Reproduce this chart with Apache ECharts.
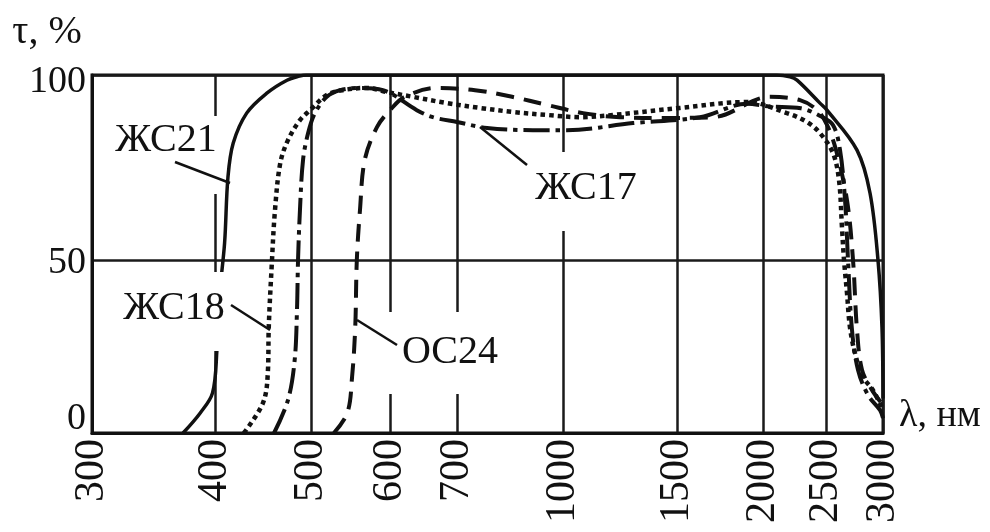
<!DOCTYPE html>
<html>
<head>
<meta charset="utf-8">
<script src="https://cdn.jsdelivr.net/npm/echarts@6/dist/echarts.min.js"></script>
<style>
html, body { margin: 0; padding: 0; background: #fff; }
#chart { width: 990px; height: 532px; }
</style>
</head>
<body>
<div id="chart"></div>
<script>
// Tick labels of both axes
const xTickLabels = [300, 400, 500, 600, 700, 1000, 1500, 2000, 2500, 3000];
const yTickLabels = [0, 50, 100];

// Transmission spectra: wavelength (nm) and transmittance (%)
const wlZS21 = [374, 388, 398, 402, 405, 410, 413.5, 419, 433, 454, 475, 488, 495, 2111, 2214, 2270, 2452, 2509, 2772, 2886, 2956, 2991, 3000];
const tZS21  = [0, 5.8, 11.6, 24, 40.5, 54.6, 72.4, 81.6, 89.7, 95.1, 98.6, 99.7, 100, 100, 99.5, 98.6, 92.4, 90.5, 79.7, 68.1, 50, 30.6, 10];

const wlZS18 = [430, 450, 455, 456, 459, 462.5, 468, 476, 488.5, 499, 520, 540, 571, 596, 634, 685, 765, 858, 955, 1075, 1219, 1517, 1907, 2190, 2349, 2452, 2561, 2614, 2640, 2658, 2684, 2710, 2754, 2825, 2912, 3000];
const tZS18  = [0, 8.7, 17.3, 30.6, 48, 63.5, 76.2, 82.4, 87.8, 90.5, 94.6, 95.9, 96.5, 95.4, 94.1, 92.4, 91.1, 90, 89.2, 88.6, 89.2, 91.1, 92.7, 89.7, 87.3, 84.3, 78.9, 71.6, 58.9, 50, 40.5, 30.6, 23.1, 16.2, 12.4, 6.6];

const wlZS17 = [461.5, 476, 483, 485.4, 486.5, 488.5, 491.7, 497, 505, 520, 537, 562, 591, 640, 664, 700, 785, 915, 1017, 1307, 1634, 1907, 2050, 2300, 2450, 2561, 2623, 2667, 2693, 2728, 2781, 2868, 2974, 3000];
const tZS17  = [0, 9.5, 21.1, 35.5, 50, 63.5, 77, 84.3, 89.7, 94.1, 95.9, 96.5, 95.9, 90.5, 88.6, 87.3, 85.7, 85.1, 85.1, 87, 88.6, 92.2, 91.5, 91, 89, 86.5, 79.7, 66.2, 50, 29.8, 18.2, 11, 6.6, 4.3];

const wlOS24 = [529, 546, 552, 556, 558, 562, 568, 583.5, 600, 622, 670, 751, 856, 955, 1088, 1250, 1447, 1709, 2056, 2294, 2429, 2509, 2588, 2684, 2737, 2772, 2816, 2904, 3000];
const tOS24  = [0, 5.8, 16.2, 30.6, 50, 63.5, 77, 85.9, 90.5, 94.1, 96.5, 95.9, 94.1, 91.9, 89.7, 88.6, 88.4, 88.6, 94.1, 93.2, 90.5, 86.5, 79.7, 66.2, 50, 29.8, 18.2, 12.4, 8.1];

// The λ axis is drawn with unequal spacing between its ticks; this scale maps
// each tick wavelength to its place along the axis (0..791), linear in between.
const X_STOPS = [0, 123, 219, 298, 365, 471, 585, 671, 734, 791];
// The τ axis has its 50 % line slightly below mid-height.
const Y_STOPS = [0, 48.32, 100];

function piecewise(v, from, to) {
  if (v <= from[0]) return to[0];
  for (let i = 1; i < from.length; i++) {
    if (v <= from[i]) {
      const f = (v - from[i - 1]) / (from[i] - from[i - 1]);
      return to[i - 1] + f * (to[i] - to[i - 1]);
    }
  }
  return to[to.length - 1];
}
const xPos = wl => piecewise(wl, xTickLabels, X_STOPS);
const yPos = t => piecewise(t, yTickLabels, Y_STOPS);
const nearest = (v, arr) => {
  let best = 0;
  arr.forEach((a, i) => { if (Math.abs(a - v) < Math.abs(arr[best] - v)) best = i; });
  return best;
};
const toData = (wl, t) => wl.map((w, i) => [xPos(w), yPos(t[i])]);

const FONT = 'Liberation Serif';
const INK = '#111';

const chart = echarts.init(document.getElementById('chart'), null, { renderer: 'canvas' });

function curve(name, wl, t, dash, width) {
  return {
    name, type: 'line', data: toData(wl, t),
    showSymbol: false, smooth: 0.35,
    lineStyle: { color: INK, width: width || 3.5, type: dash, cap: 'butt' },
    z: 3, silent: true, animation: false
  };
}

const labelBox = (x, y, w, h) => ({
  type: 'rect', shape: { x, y, width: w, height: h },
  style: { fill: '#fff' }, z: 20, silent: true
});
const leader = (x1, y1, x2, y2) => ({
  type: 'line', shape: { x1, y1, x2, y2 },
  style: { stroke: INK, lineWidth: 2.5 }, z: 21, silent: true
});
const tag = (text, x, y, size) => ({
  type: 'text', x, y, z: 22, silent: true,
  style: { text, font: `${size || 40}px "${FONT}"`, fill: INK, align: 'center', verticalAlign: 'middle' }
});

chart.setOption({
  animation: false,
  backgroundColor: '#fff',
  grid: {
    left: 92, right: 107, top: 75, bottom: 99,
    show: true, borderColor: INK, borderWidth: 3,
    outerBoundsMode: 'none'
  },
  xAxis: {
    type: 'value', min: 0, max: 791,
    axisLine: { show: true, lineStyle: { color: INK, width: 3 } },
    axisTick: { show: true, customValues: X_STOPS, length: 0, lineStyle: { color: INK } },
    splitLine: { show: true, lineStyle: { color: '#1a1a1a', width: 2.5 } },
    axisLabel: {
      customValues: X_STOPS, rotate: 90, margin: 6,
      color: INK, fontFamily: FONT, fontSize: 42,
      formatter: v => String(xTickLabels[nearest(v, X_STOPS)])
    }
  },
  yAxis: {
    type: 'value', min: 0, max: 100,
    axisLine: { show: true, lineStyle: { color: INK, width: 3 } },
    axisTick: { show: true, customValues: Y_STOPS, length: 0 },
    splitLine: { show: true, lineStyle: { color: '#1a1a1a', width: 2.5 } },
    axisLabel: {
      customValues: Y_STOPS, margin: 6, color: INK, fontFamily: FONT, fontSize: 38,
      formatter: v => {
        const i = nearest(v, Y_STOPS);
        return '{' + ['b', 'm', 't'][i] + '|' + yTickLabels[i] + '}';
      },
      rich: {
        b: { fontFamily: FONT, fontSize: 38, color: INK, padding: [0, 0, 28, 0] },
        m: { fontFamily: FONT, fontSize: 38, color: INK, padding: [6, 0, 0, 0] },
        t: { fontFamily: FONT, fontSize: 38, color: INK, padding: [14, 0, 0, 0] }
      }
    }
  },
  series: [
    curve('ЖС21', wlZS21, tZS21, 'solid', 3.5),
    curve('ЖС18', wlZS18, tZS18, [4.5, 4], 4.5),
    curve('ЖС17', wlZS17, tZS17, [26, 6, 4.5, 6], 4),
    curve('ОС24', wlOS24, tOS24, [18, 10], 4)
  ],
  graphic: [
    // axis titles
    tag('τ, %', 47, 32, 40),
    tag('λ, нм', 940, 416, 38),
    // curve labels on white patches with leader lines
    labelBox(108, 116, 116, 78), tag('ЖС21', 166, 140),
    leader(175, 162, 230, 183),
    labelBox(112, 272, 122, 79), tag('ЖС18', 174, 308),
    leader(231, 305, 270, 330),
    labelBox(382, 312, 128, 82), tag('ОС24', 450, 352),
    leader(357, 320, 397, 345),
    labelBox(522, 152, 128, 79), tag('ЖС17', 586, 188),
    leader(527, 165, 480, 127)
  ]
});
</script>
</body>
</html>
